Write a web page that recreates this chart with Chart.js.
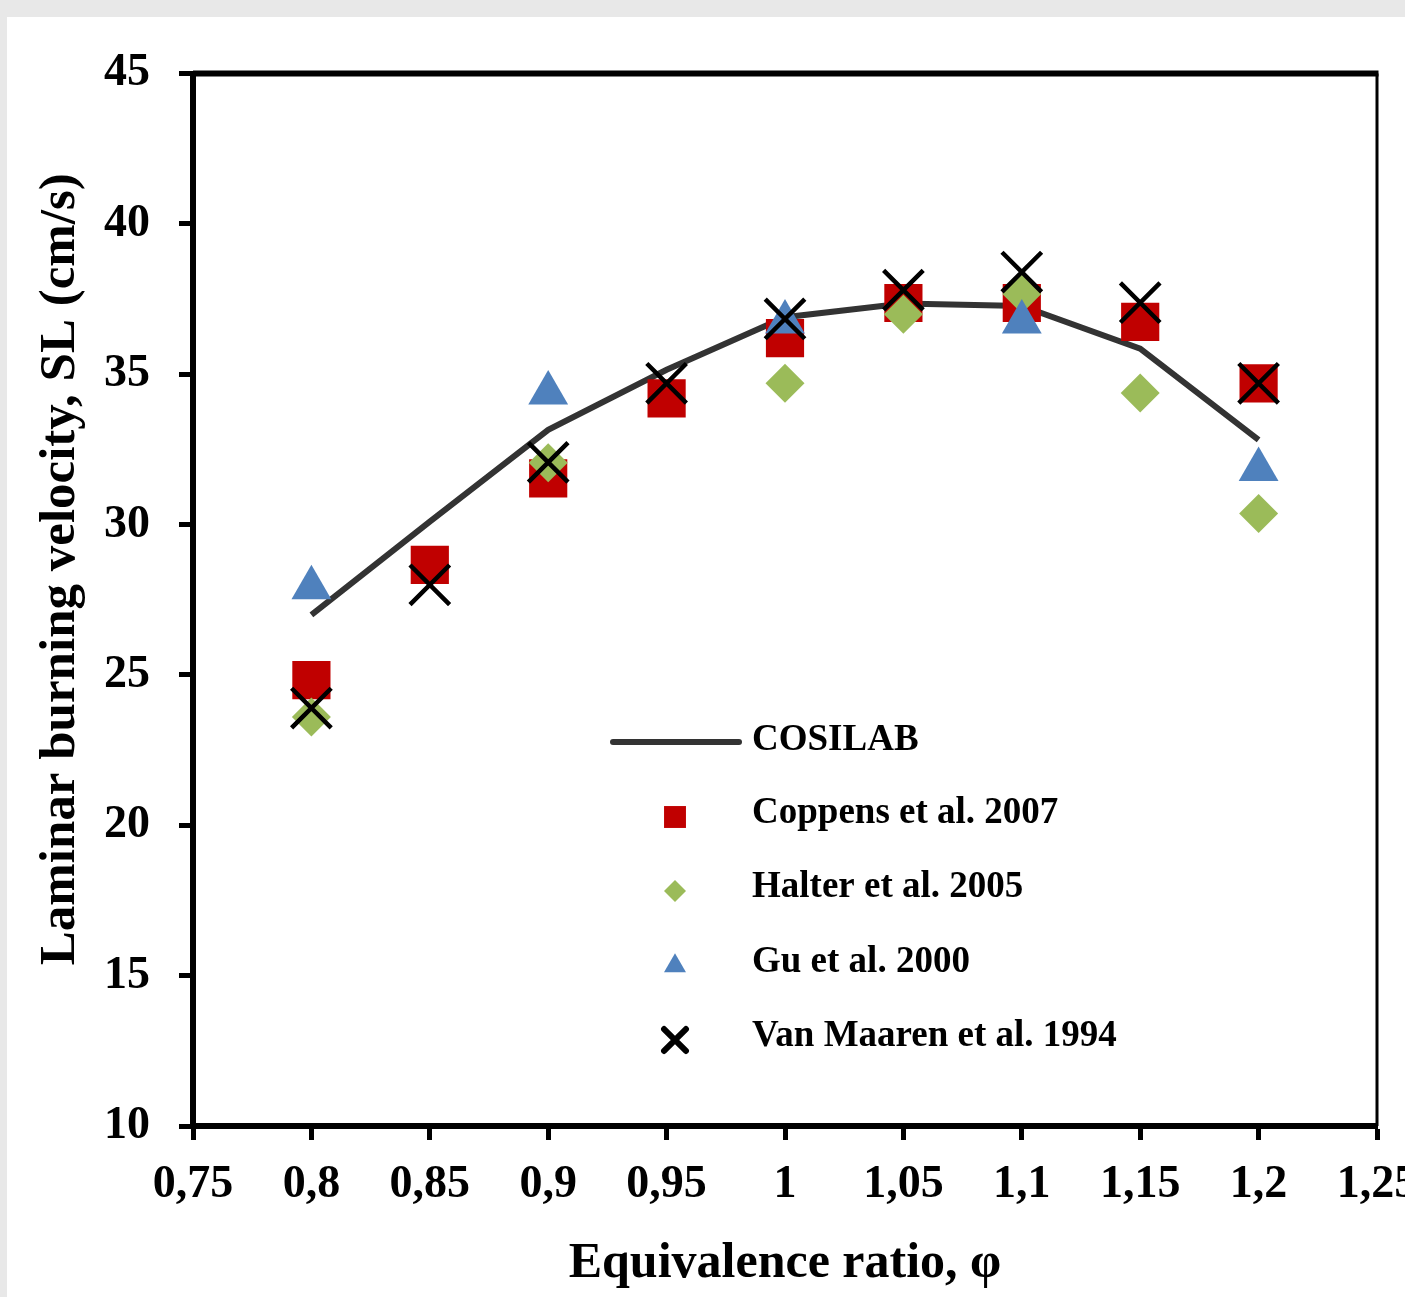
<!DOCTYPE html>
<html>
<head>
<meta charset="utf-8">
<script src="https://cdn.jsdelivr.net/npm/chart.js@4.4.1/dist/chart.umd.min.js"></script>
<style>
  html, body { margin: 0; padding: 0; overflow: hidden; background: #e8e8e8; width: 1405px; height: 1297px; }
  #wrap { position: absolute; left: 7px; top: 17px; width: 1418px; height: 1280px; background: #fff; }
</style>
</head>
<body>
<div id="wrap"><canvas id="chart" width="1418" height="1280"></canvas></div>
<script>
// equivalence ratio values
const phi = [0.8, 0.85, 0.9, 0.95, 1.0, 1.05, 1.1, 1.15, 1.2];

// laminar burning velocity (cm/s), null = no point
const cosilab   = [27.0, 30.1, 33.15, 35.15, 36.9, 37.35, 37.27, 35.85, 32.82];
const coppens   = [24.83, 28.66, 31.54, 34.2, 36.2, 37.37, 37.37, 36.74, 34.7];
const halter    = [23.6, null, 32.06, null, 34.7, 37.0, 37.67, 34.38, 30.37];
const gu        = [27.9, null, 34.38, null, 36.74, null, 36.74, null, 31.83];
const vanMaaren = [23.9, 28.0, 32.07, 34.7, 36.84, 37.8, 38.4, 37.38, 34.7];

const seriesNames = ['COSILAB', 'Coppens et al. 2007', 'Halter et al. 2005', 'Gu et al. 2000', 'Van Maaren et al. 1994'];

const xTickValues = [0.75, 0.8, 0.85, 0.9, 0.95, 1.0, 1.05, 1.1, 1.15, 1.2, 1.25];
const xTickLabels = ['0,75', '0,8', '0,85', '0,9', '0,95', '1', '1,05', '1,1', '1,15', '1,2', '1,25'];
const yTickValues = [10, 15, 20, 25, 30, 35, 40, 45];
const yTickLabels = ['10', '15', '20', '25', '30', '35', '40', '45'];

function toPoints(values) {
    return phi.map((x, i) => ({x: x, y: values[i]})).filter(p => p.y !== null);
}

Chart.defaults.font.family = '"Liberation Serif", serif';
Chart.defaults.color = '#000';

const tickFont = {size: 46, weight: 'bold'};

// legend drawn inside the plot area, like the original
const insideLegend = {
    id: 'insideLegend',
    afterDraw(chart) {
        const ctx = chart.ctx;
        const rows = [723, 796, 870, 945, 1019];
        const markerX = 668;
        const textX = 745;
        const legendMarks = [
            null,
            {pointStyle: 'rect', radius: 15.5, borderWidth: 0},
            {pointStyle: 'rectRot', radius: 11, borderWidth: 0},
            {pointStyle: 'triangle', radius: 12.7, borderWidth: 0},
            {pointStyle: 'crossRot', radius: 15.5, borderWidth: 2}
        ];
        ctx.save();
        chart.data.datasets.forEach((ds, i) => {
            const y = rows[i];
            if (ds.showLine) {
                ctx.beginPath();
                ctx.strokeStyle = ds.borderColor;
                ctx.lineWidth = 6;
                ctx.lineCap = 'round';
                ctx.moveTo(606, y + 2);
                ctx.lineTo(732, y + 2);
                ctx.stroke();
            } else {
                ctx.fillStyle = ds.pointBackgroundColor;
                ctx.strokeStyle = ds.pointBorderColor;
                Chart.helpers.drawPoint(ctx, Object.assign({rotation: 0}, legendMarks[i]), markerX, y + 4);
            }
            ctx.fillStyle = '#000';
            ctx.font = 'bold 37px "Liberation Serif"';
            ctx.textBaseline = 'middle';
            ctx.textAlign = 'left';
            ctx.fillText(ds.label, textX, y);
        });
        ctx.restore();
    }
};

// top and right frame of the plot area
const plotFrame = {
    id: 'plotFrame',
    beforeDatasetsDraw(chart) {
        const {ctx, chartArea} = chart;
        ctx.save();
        ctx.strokeStyle = '#000';
        ctx.lineWidth = 6;
        ctx.beginPath();
        ctx.moveTo(chartArea.left, chartArea.top);
        ctx.lineTo(chartArea.right + 1.5, chartArea.top);
        ctx.stroke();
        ctx.lineWidth = 3;
        ctx.beginPath();
        ctx.moveTo(chartArea.right, chartArea.top);
        ctx.lineTo(chartArea.right, chartArea.bottom);
        ctx.stroke();
        ctx.restore();
    }
};

const ctx = document.getElementById('chart').getContext('2d');
new Chart(ctx, {
    type: 'scatter',
    data: {
        datasets: [{
            label: seriesNames[0],
            data: toPoints(cosilab),
            showLine: true,
            borderColor: '#333333',
            borderWidth: 6,
            pointRadius: 0,
            tension: 0,
            order: 5
        }, {
            label: seriesNames[1],
            data: toPoints(coppens),
            pointStyle: 'rect',
            pointRadius: 27,
            pointBackgroundColor: '#C00000',
            pointBorderColor: '#C00000',
            pointBorderWidth: 0,
            order: 4
        }, {
            label: seriesNames[2],
            data: toPoints(halter),
            pointStyle: 'rectRot',
            pointRadius: 19.5,
            pointBackgroundColor: '#9BBB59',
            pointBorderColor: '#9BBB59',
            pointBorderWidth: 0,
            order: 3
        }, {
            label: seriesNames[3],
            data: toPoints(gu),
            pointStyle: 'triangle',
            pointRadius: 23,
            pointBackgroundColor: '#4F81BD',
            pointBorderColor: '#4F81BD',
            pointBorderWidth: 0,
            order: 2
        }, {
            label: seriesNames[4],
            data: toPoints(vanMaaren),
            pointStyle: 'crossRot',
            pointRadius: 28,
            pointBackgroundColor: '#000000',
            pointBorderColor: '#000000',
            pointBorderWidth: 4.5,
            order: 1
        }]
    },
    options: {
        responsive: false,
        animation: false,
        devicePixelRatio: 1,
        layout: {
            padding: {top: 54, right: 48, left: 0, bottom: 0}
        },
        plugins: {
            legend: {display: false},
            tooltip: {enabled: false}
        },
        scales: {
            x: {
                type: 'linear',
                min: 0.75,
                max: 1.25,
                afterBuildTicks: scale => {
                    scale.ticks = xTickValues.map(v => ({value: v}));
                },
                afterFit: scale => {
                    scale.height = 171;
                    scale.paddingLeft = 0;
                    scale.paddingRight = 0;
                },
                ticks: {
                    font: tickFont,
                    color: '#000',
                    padding: 18,
                    maxRotation: 0,
                    autoSkip: false,
                    callback: (value, index) => xTickLabels[index]
                },
                grid: {
                    drawOnChartArea: false,
                    tickLength: 14,
                    tickWidth: 5,
                    tickColor: '#000'
                },
                border: {color: '#000', width: 6},
                title: {
                    display: true,
                    text: 'Equivalence ratio, φ',
                    font: {size: 50, weight: 'bold'},
                    color: '#000',
                    padding: {top: 0, bottom: 3}
                }
            },
            y: {
                type: 'linear',
                min: 10,
                max: 45,
                afterBuildTicks: scale => {
                    scale.ticks = yTickValues.map(v => ({value: v}));
                },
                afterFit: scale => {
                    scale.width = 186;
                },
                ticks: {
                    font: tickFont,
                    color: '#000',
                    padding: 29,
                    callback: (value, index) => yTickLabels[index]
                },
                grid: {
                    drawOnChartArea: false,
                    tickLength: 14,
                    tickWidth: 5,
                    tickColor: '#000'
                },
                border: {color: '#000', width: 6},
                title: {
                    display: true,
                    // leading spaces move the text a little upward, as in the original
                    text: '\u2003\u2009Laminar burning velocity, SL (cm/s)',
                    font: {size: 51, weight: 'bold'},
                    color: '#000',
                    padding: {top: 23, bottom: 0}
                }
            }
        }
    },
    plugins: [plotFrame, insideLegend]
});
</script>
</body>
</html>
